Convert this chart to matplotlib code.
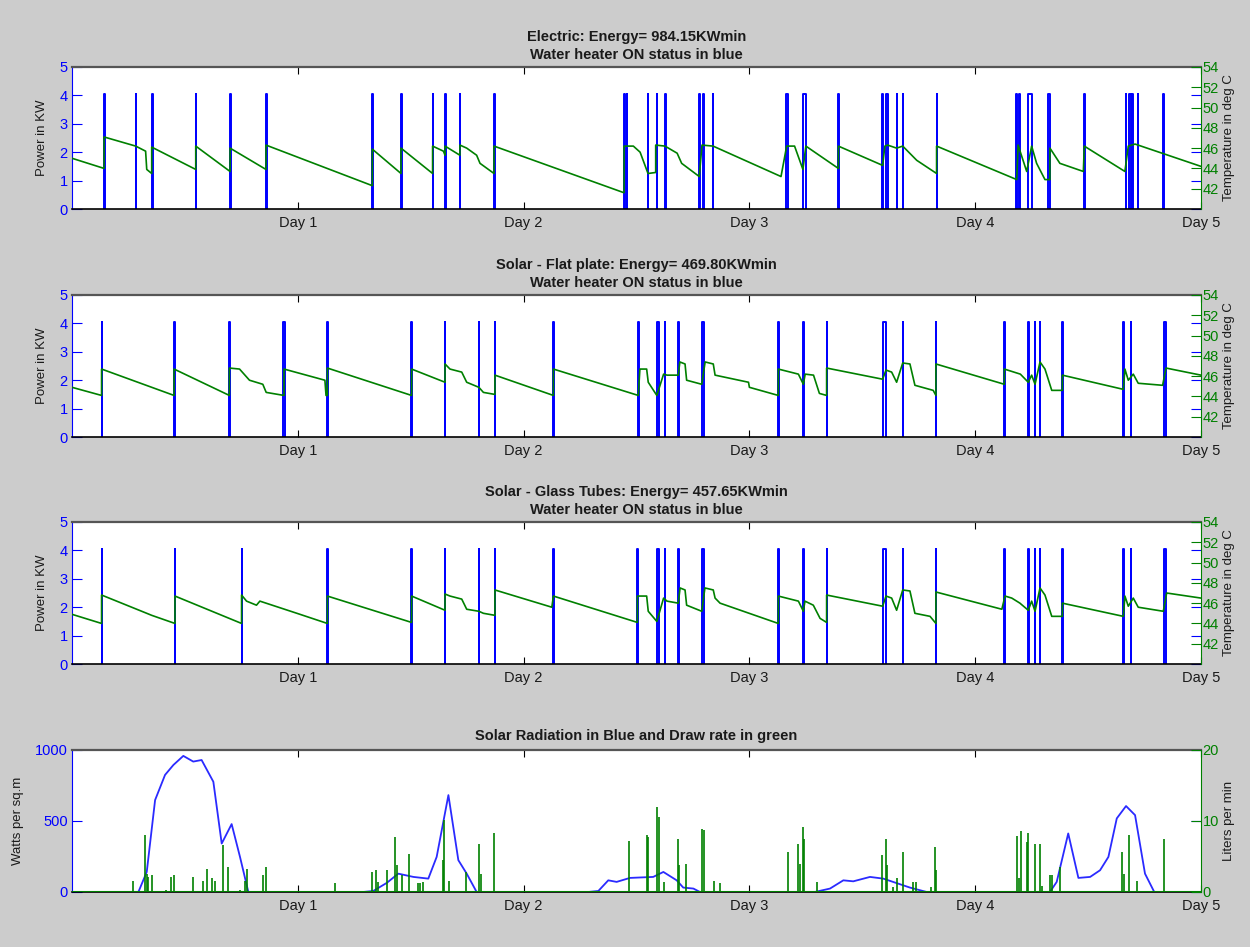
import matplotlib
matplotlib.use('Agg')
import matplotlib.pyplot as plt

plt.rcParams['font.family'] = ['Liberation Sans', 'DejaVu Sans']

BLUE = '#0000ff'
GREEN = '#008000'
TXT = '#1a1a1a'

day_ticks = [1, 2, 3, 4, 5]
day_labels = ['Day 1', 'Day 2', 'Day 3', 'Day 4', 'Day 5']
P_ON = 4.05  # heater power in KW when ON

titles = [
    'Electric: Energy= 984.15KWmin\nWater heater ON status in blue',
    'Solar - Flat plate: Energy= 469.80KWmin\nWater heater ON status in blue',
    'Solar - Glass Tubes: Energy= 457.65KWmin\nWater heater ON status in blue',
]

# heater ON intervals (start day, end day)
on_electric = [(0.142, 0.144), (0.282, 0.284), (0.353, 0.358), (0.548, 0.550), (0.700, 0.703),
               (0.857, 0.862), (1.328, 1.334), (1.457, 1.460), (1.597, 1.599), (1.650, 1.656),
               (1.718, 1.720), (1.867, 1.873), (2.445, 2.447), (2.456, 2.460), (2.551, 2.553),
               (2.590, 2.593), (2.625, 2.629), (2.778, 2.780), (2.795, 2.799), (2.839, 2.841),
               (3.160, 3.170), (3.237, 3.251), (3.394, 3.397), (3.589, 3.591), (3.604, 3.614),
               (3.652, 3.654), (3.679, 3.681), (3.829, 3.831), (4.182, 4.186), (4.194, 4.197),
               (4.236, 4.250), (4.322, 4.332), (4.483, 4.485), (4.667, 4.669), (4.682, 4.688),
               (4.696, 4.698), (4.721, 4.723), (4.833, 4.835)]
on_flat = [(0.131, 0.133), (0.452, 0.454), (0.697, 0.699), (0.936, 0.942), (1.131, 1.133),
           (1.501, 1.507), (1.652, 1.654), (1.802, 1.804), (1.873, 1.875), (2.132, 2.134),
           (2.508, 2.510), (2.592, 2.600), (2.626, 2.628), (2.685, 2.687), (2.792, 2.800),
           (3.128, 3.130), (3.239, 3.241), (3.342, 3.344), (3.593, 3.605), (3.679, 3.681),
           (3.826, 3.828), (4.129, 4.131), (4.235, 4.237), (4.265, 4.267), (4.287, 4.289),
           (4.386, 4.388), (4.656, 4.658), (4.688, 4.692), (4.837, 4.843)]
on_tubes = [(0.131, 0.133), (0.456, 0.458), (0.751, 0.753), (1.131, 1.133), (1.501, 1.507),
            (1.652, 1.654), (1.802, 1.804), (1.873, 1.875), (2.132, 2.134), (2.504, 2.506),
            (2.592, 2.600), (2.626, 2.628), (2.685, 2.687), (2.792, 2.800), (3.128, 3.130),
            (3.239, 3.241), (3.342, 3.344), (3.593, 3.605), (3.679, 3.681), (3.826, 3.828),
            (4.129, 4.131), (4.235, 4.237), (4.265, 4.267), (4.287, 4.289), (4.386, 4.388),
            (4.656, 4.658), (4.688, 4.692), (4.837, 4.843)]

# tank temperature (day, deg C)
temp_electric = [(0.0, 45.0), (0.142, 44.0), (0.142, 47.1), (0.282, 46.2), (0.326, 45.7), (0.331, 43.9),
                 (0.353, 43.5), (0.353, 46.1), (0.548, 43.9), (0.548, 46.2), (0.70, 43.7), (0.70, 46.0),
                 (0.859, 43.9), (0.859, 46.3), (1.330, 42.3), (1.330, 45.9), (1.457, 43.5), (1.457, 46.0),
                 (1.597, 43.5), (1.597, 46.2), (1.645, 45.7), (1.652, 45.3), (1.652, 46.2), (1.718, 45.3),
                 (1.718, 46.3), (1.748, 46.0), (1.792, 45.3), (1.807, 44.5), (1.869, 43.5), (1.869, 46.2),
                 (2.445, 41.6), (2.445, 46.2), (2.486, 46.2), (2.516, 45.6), (2.551, 43.5), (2.585, 43.6),
                 (2.585, 46.3), (2.626, 46.2), (2.68, 45.5), (2.70, 44.5), (2.778, 43.2), (2.79, 46.3),
                 (2.839, 46.2), (3.14, 43.2), (3.165, 46.2), (3.20, 46.2), (3.237, 43.9), (3.25, 46.2),
                 (3.394, 44.0), (3.394, 46.2), (3.59, 44.3), (3.60, 46.2), (3.612, 46.3), (3.652, 46.0),
                 (3.679, 46.2), (3.741, 44.8), (3.829, 43.5), (3.829, 46.2), (4.184, 42.9), (4.19, 46.3),
                 (4.228, 43.7), (4.25, 46.2), (4.272, 44.5), (4.309, 42.9), (4.331, 42.9), (4.331, 46.0),
                 (4.375, 44.5), (4.479, 43.7), (4.483, 46.2), (4.663, 43.7), (4.678, 46.2), (4.708, 46.4),
                 (5.0, 44.2)]
temp_flat = [(0.0, 44.9), (0.131, 44.1), (0.131, 46.7), (0.452, 44.1), (0.452, 46.7), (0.697, 44.1),
             (0.697, 46.8), (0.742, 46.7), (0.786, 45.6), (0.845, 45.2), (0.86, 44.4), (0.939, 44.1),
             (0.939, 46.7), (1.12, 45.6), (1.125, 44.1), (1.131, 44.1), (1.131, 46.8), (1.504, 44.1),
             (1.504, 46.7), (1.652, 45.4), (1.652, 47.2), (1.674, 46.7), (1.726, 46.4), (1.748, 45.4),
             (1.802, 44.9), (1.822, 44.4), (1.873, 44.2), (1.873, 46.1), (2.132, 44.1), (2.132, 46.7),
             (2.508, 44.1), (2.515, 46.7), (2.545, 46.7), (2.552, 45.4), (2.59, 44.1), (2.62, 46.2),
             (2.635, 46.1), (2.685, 46.1), (2.692, 47.4), (2.715, 47.2), (2.722, 45.6), (2.789, 45.2),
             (2.804, 47.4), (2.84, 47.2), (2.848, 46.1), (2.996, 45.4), (3.0, 44.9), (3.128, 44.1),
             (3.128, 46.7), (3.217, 46.2), (3.239, 45.2), (3.247, 46.2), (3.284, 46.1), (3.31, 44.3),
             (3.342, 44.1), (3.342, 46.8), (3.59, 45.7), (3.605, 46.6), (3.63, 46.4), (3.652, 45.4),
             (3.679, 47.3), (3.711, 47.2), (3.733, 45.1), (3.814, 44.6), (3.826, 44.1), (3.826, 47.2),
             (4.129, 45.2), (4.129, 46.7), (4.2, 46.2), (4.235, 45.4), (4.25, 46.1), (4.265, 45.2),
             (4.287, 47.4), (4.309, 46.7), (4.339, 44.6), (4.386, 44.6), (4.386, 46.1), (4.656, 44.7),
             (4.663, 46.7), (4.678, 45.6), (4.70, 46.2), (4.722, 45.3), (4.83, 45.1), (4.845, 46.8),
             (5.0, 46.1)]
temp_tubes = [(0.0, 44.9), (0.131, 44.0), (0.131, 46.8), (0.331, 45.0), (0.353, 44.8), (0.456, 44.0),
              (0.456, 46.7), (0.751, 44.0), (0.751, 46.8), (0.773, 46.2), (0.817, 45.8), (0.832, 46.2),
              (0.996, 45.0), (1.131, 44.0), (1.131, 46.7), (1.504, 44.1), (1.504, 46.7), (1.652, 45.3),
              (1.652, 46.9), (1.674, 46.7), (1.726, 46.4), (1.748, 45.4), (1.802, 45.2), (1.822, 45.0),
              (1.873, 44.8), (1.873, 47.3), (2.125, 45.6), (2.132, 46.7), (2.504, 44.1), (2.504, 46.7),
              (2.545, 46.7), (2.552, 45.2), (2.59, 44.2), (2.62, 46.5), (2.635, 46.2), (2.685, 46.0),
              (2.693, 47.5), (2.715, 47.3), (2.722, 45.8), (2.789, 45.2), (2.803, 47.5), (2.84, 47.3),
              (2.848, 46.5), (2.87, 46.0), (3.128, 44.0), (3.128, 46.7), (3.217, 46.2), (3.239, 45.2),
              (3.246, 46.2), (3.283, 45.8), (3.313, 44.5), (3.342, 44.1), (3.342, 46.8), (3.59, 45.7),
              (3.605, 46.7), (3.63, 46.5), (3.652, 45.3), (3.679, 47.3), (3.711, 47.2), (3.733, 45.0),
              (3.80, 44.7), (3.826, 44.0), (3.826, 47.1), (4.118, 45.4), (4.132, 46.7), (4.162, 46.5),
              (4.198, 46.0), (4.235, 45.3), (4.25, 46.2), (4.265, 45.2), (4.287, 47.5), (4.309, 46.8),
              (4.339, 44.7), (4.386, 44.7), (4.386, 46.0), (4.656, 44.7), (4.663, 46.7), (4.678, 45.7),
              (4.70, 46.5), (4.722, 45.6), (4.833, 45.2), (4.848, 47.0), (5.0, 46.5)]

# solar radiation (day, W/m2)
solar = [(0.0, 0), (0.294, 0), (0.331, 141), (0.368, 647), (0.412, 824), (0.449, 894), (0.493, 958),
         (0.537, 918), (0.574, 929), (0.626, 776), (0.663, 341), (0.707, 478), (0.744, 247), (0.781, 0),
         (1.290, 0), (1.334, 7), (1.394, 64), (1.445, 129), (1.512, 106), (1.578, 94), (1.615, 247),
         (1.667, 682), (1.711, 224), (1.748, 129), (1.792, 0), (2.287, 0), (2.331, 7), (2.375, 82),
         (2.412, 71), (2.471, 99), (2.574, 106), (2.619, 141), (2.678, 82), (2.707, 31), (2.752, 24),
         (2.781, 0), (3.29, 0), (3.357, 24), (3.416, 82), (3.46, 75), (3.534, 106), (3.593, 94),
         (3.711, 31), (3.785, 0), (4.331, 0), (4.361, 71), (4.412, 412), (4.457, 99), (4.509, 106),
         (4.553, 153), (4.59, 247), (4.627, 518), (4.668, 605), (4.708, 541), (4.752, 129), (4.793, 0),
         (5.0, 0)]

# hot water draw rate (day, liters/min)
draws = [(0.272, 1.6), (0.323, 8.0), (0.331, 2.6), (0.338, 2.1), (0.353, 2.4), (0.415, 0.3), (0.437, 2.1),
         (0.452, 2.4), (0.537, 2.1), (0.582, 1.6), (0.60, 3.2), (0.618, 1.9), (0.633, 1.6), (0.667, 6.6),
         (0.692, 3.5), (0.744, 0.3), (0.766, 1.6), (0.776, 3.2), (0.847, 2.4), (0.858, 3.5), (1.165, 1.3),
         (1.327, 2.8), (1.346, 3.1), (1.354, 1.4), (1.396, 3.1), (1.43, 7.8), (1.438, 3.8), (1.46, 2.4),
         (1.494, 5.3), (1.534, 1.2), (1.541, 1.2), (1.556, 1.4), (1.644, 4.5), (1.649, 10.1), (1.671, 1.6),
         (1.745, 2.8), (1.802, 6.8), (1.81, 2.6), (1.870, 8.3), (2.467, 7.2), (2.545, 8.0), (2.552, 7.8),
         (2.589, 11.9), (2.601, 10.6), (2.62, 1.4), (2.685, 7.5), (2.69, 3.8), (2.718, 4.0), (2.792, 8.9),
         (2.799, 8.7), (2.843, 1.6), (2.870, 1.2), (3.172, 5.6), (3.217, 6.8), (3.225, 4.0), (3.236, 9.2),
         (3.243, 7.5), (3.298, 1.4), (3.586, 5.2), (3.605, 7.5), (3.61, 3.8), (3.634, 0.7), (3.652, 1.9),
         (3.679, 5.6), (3.725, 1.4), (3.737, 1.4), (3.803, 0.7), (3.822, 6.4), (3.827, 3.1), (4.184, 7.9),
         (4.193, 1.9), (4.203, 8.6), (4.228, 7.1), (4.236, 8.3), (4.265, 6.8), (4.287, 6.8), (4.295, 0.9),
         (4.331, 2.4), (4.34, 2.4), (4.375, 3.5), (4.651, 5.6), (4.66, 2.6), (4.683, 8.0), (4.717, 1.5),
         (4.837, 7.5)]

fig = plt.figure(figsize=(12.5, 9.47), dpi=100, facecolor='#cccccc')

L, W, H = 0.0576, 0.9032, 0.150
bottoms = [0.7793, 0.5385, 0.2988, 0.0581]


def style_axes(ax, ax2, left_label, right_label):
    ax.set_xlim(0, 5)
    ax.set_xticks(day_ticks)
    ax.set_xticklabels(day_labels)
    ax.tick_params(axis='x', direction='in', length=5, top=True, bottom=True,
                   colors='black', labelcolor=TXT, labelsize=10.5, pad=5)
    ax.tick_params(axis='y', direction='in', length=7, colors=BLUE, left=True, right=True,
                   labelleft=True, labelright=False, labelsize=10.5, pad=3)
    ax2.tick_params(axis='y', direction='in', length=7, colors=GREEN, labelsize=10.5, pad=1)
    ax.spines['left'].set_color(BLUE)
    ax.spines['right'].set_visible(False)
    ax.spines['top'].set_color('#555555')
    ax.spines['top'].set_linewidth(1.6)
    ax.spines['bottom'].set_color('black')
    ax.spines['bottom'].set_linewidth(1.2)
    for s in ['left', 'top', 'bottom']:
        ax2.spines[s].set_visible(False)
    ax2.spines['right'].set_color(GREEN)
    ax.set_ylabel(left_label, fontsize=9.5, color=TXT, labelpad=8)
    ax2.set_ylabel(right_label, fontsize=9.5, color=TXT, labelpad=3)


# heater panels
for i, (on, temp) in enumerate([(on_electric, temp_electric), (on_flat, temp_flat), (on_tubes, temp_tubes)]):
    ax = fig.add_axes([L, bottoms[i], W, H])
    xs, ys = [], []
    for s, e in on:
        xs += [s, s, e, e, float('nan')]
        ys += [0, P_ON, P_ON, 0, float('nan')]
    ax.plot(xs, ys, color=BLUE, lw=1.4)
    ax.set_ylim(0, 5)
    ax.set_yticks([0, 1, 2, 3, 4, 5])
    ax.set_title(titles[i], fontsize=10.5, fontweight='bold', color=TXT, pad=6, linespacing=1.35)

    ax2 = ax.twinx()
    ax2.plot([p[0] for p in temp], [p[1] for p in temp], color=GREEN, lw=1.2)
    ax2.set_ylim(40, 54)
    ax2.set_yticks(range(42, 55, 2))
    style_axes(ax, ax2, 'Power in KW', 'Temperature in deg C')

# solar radiation and draw rate
ax = fig.add_axes([L, bottoms[3], W, H])
ax.plot([p[0] for p in solar], [p[1] for p in solar], color='#2a2aff', lw=1.3)
ax.set_ylim(0, 1000)
ax.set_yticks([0, 500, 1000])
ax.set_title('Solar Radiation in Blue and Draw rate in green', fontsize=10.5,
             fontweight='bold', color=TXT, pad=7)
ax2 = ax.twinx()
ax2.axhline(0, color=GREEN, lw=1.5)
ax2.vlines([d[0] for d in draws], 0, [d[1] for d in draws], color=GREEN, lw=1.2)
ax2.set_ylim(0, 20)
ax2.set_yticks([0, 10, 20])
style_axes(ax, ax2, 'Watts per sq.m', 'Liters per min')

fig.savefig('out.png', dpi=100, facecolor=fig.get_facecolor())
